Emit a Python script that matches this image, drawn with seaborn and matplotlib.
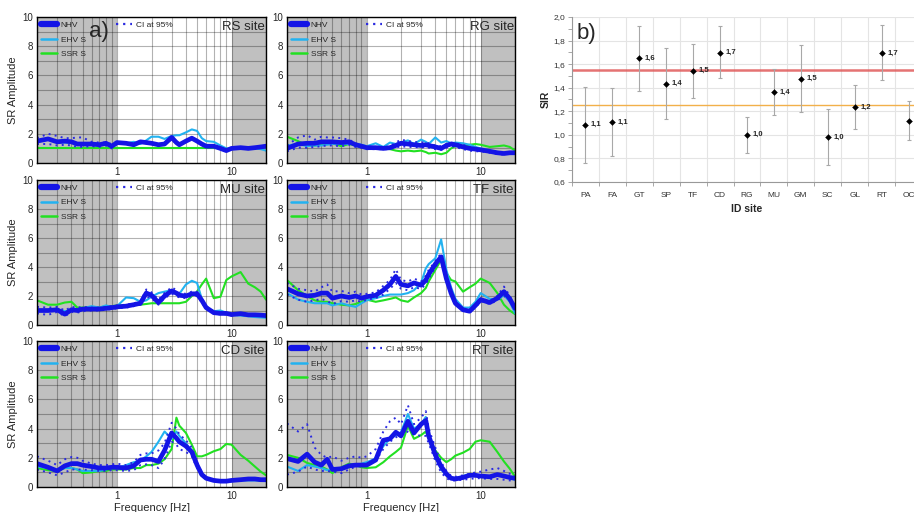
import numpy as np
import pandas as pd
import matplotlib
matplotlib.use("Agg")
import matplotlib.pyplot as plt
import seaborn as sns
from matplotlib.ticker import LogLocator, NullFormatter, MultipleLocator, FixedLocator, FuncFormatter
from matplotlib.lines import Line2D

sns.set_style("white")
plt.rcParams["font.family"] = ["Liberation Sans", "DejaVu Sans"]

# ---------------- data: spectral ratios ----------------
FREQ = [0.2, 0.25, 0.3, 0.35, 0.4, 0.45, 0.5, 0.6, 0.7, 0.8, 0.9, 1.0, 1.2, 1.4, 1.6, 1.8,
        2.0, 2.3, 2.6, 3.0, 3.3, 3.5, 4.0, 4.5, 5.0, 5.5, 6.0, 7.0, 8.0, 9.0, 10, 12, 14, 16, 18, 20]

RS_NHV = [1.5,1.65,1.45,1.5,1.45,1.3,1.3,1.3,1.25,1.35,1.15,1.4,1.35,1.25,1.45,1.4,1.35,1.25,1.3,1.75,1.4,1.25,1.5,1.7,1.5,1.3,1.15,1.15,1.0,0.85,1.0,1.05,1.0,1.05,1.1,1.15]
RS_EHV = [1.45,1.6,1.45,1.4,1.4,1.35,1.3,1.25,1.3,1.3,1.2,1.35,1.35,1.45,1.3,1.55,1.8,1.8,1.65,1.85,1.9,1.9,2.1,2.3,2.2,1.7,1.5,1.45,1.2,1.0,1.0,1.05,1.0,1.0,0.95,0.85]
RS_SSR = [1.0,1.0,1.0,1.0,1.0,1.0,1.0,1.0,1.0,1.0,1.0,1.0,1.0,1.0,1.0,1.0,1.0,1.0,1.0,1.0,1.0,1.0,1.0,1.0,1.0,1.0,1.0,1.0,1.0,1.0,None,None,None,None,None,None]
RS_CI_HI = [1.7,2.0,1.85,1.7,1.7,1.75,1.75,1.45,1.4,1.4,1.3,1.45,1.4,1.3,1.5,1.45,1.4,1.3,1.35,1.85,1.5,1.3,1.55,1.75,1.55,1.35,1.2,1.2,1.05,0.9,1.05,1.1,1.05,1.1,1.15,1.2]
RS_CI_LO = [1.3,1.3,1.2,1.25,1.2,1.1,1.1,1.15,1.1,1.2,1.0,1.3,1.3,1.2,1.4,1.35,1.3,1.2,1.25,1.65,1.3,1.2,1.45,1.65,1.45,1.25,1.1,1.1,0.95,0.8,0.95,1.0,0.95,1.0,1.05,1.1]

RG_NHV = [1.0,1.3,1.35,1.35,1.45,1.45,1.45,1.4,1.45,1.25,1.15,1.05,1.05,1.0,1.05,1.2,1.35,1.3,1.25,1.2,1.25,1.2,1.1,1.0,1.2,1.3,1.25,1.1,1.0,0.95,0.9,0.8,0.7,0.65,0.7,0.7]
RG_EHV = [1.2,1.3,1.15,1.2,1.2,1.25,1.3,1.3,1.3,1.3,1.25,1.15,1.35,1.1,1.4,1.3,1.4,1.55,1.3,1.6,1.45,1.3,1.75,1.4,1.5,1.35,1.4,1.35,1.25,1.1,1.0,0.85,0.75,0.7,0.7,0.7]
RG_SSR = [1.8,1.5,1.2,1.2,1.25,1.3,1.35,1.15,1.3,1.2,1.1,1.0,1.05,1.0,0.95,0.85,0.8,0.85,0.8,0.85,0.75,0.65,0.7,0.6,0.7,1.0,1.15,1.2,1.25,1.3,1.25,1.1,1.15,1.2,1.1,0.85]
RG_CI_HI = [1.2,1.75,1.9,1.6,1.8,1.75,1.75,1.7,1.6,1.35,1.2,1.1,1.1,1.05,1.15,1.4,1.6,1.5,1.45,1.4,1.45,1.35,1.2,1.15,1.3,1.4,1.35,1.25,1.1,1.0,0.95,0.85,0.75,0.72,0.75,0.75]
RG_CI_LO = [0.8,1.05,1.05,1.1,1.15,1.2,1.2,1.15,1.25,1.1,1.05,0.95,0.95,0.95,0.95,1.05,1.15,1.1,1.1,1.05,1.1,1.05,0.95,0.9,1.05,1.15,1.1,0.95,0.85,0.8,0.8,0.7,0.6,0.58,0.65,0.65]

MU_NHV = [1.0,1.0,1.05,0.75,1.05,1.0,1.1,1.1,1.1,1.15,1.2,1.25,1.3,1.4,1.5,2.2,2.05,1.55,2.0,2.35,2.2,2.05,2.0,2.15,2.15,1.7,1.2,0.85,0.8,0.8,0.72,0.78,0.7,0.7,0.68,0.65]
MU_EHV = [1.05,1.0,1.1,0.95,1.05,1.1,1.15,1.3,1.2,1.35,1.25,1.3,1.9,1.85,1.6,1.7,1.95,2.2,2.3,2.4,2.2,2.15,2.8,3.05,2.9,1.8,1.2,0.95,1.0,0.85,0.7,0.65,0.6,0.55,0.52,0.5]
MU_SSR = [1.7,1.4,1.4,1.55,1.6,1.2,1.2,1.25,1.2,1.3,1.3,1.35,1.35,1.4,1.4,1.45,1.5,1.5,1.5,1.5,1.5,1.5,1.6,2.0,2.3,2.8,3.2,1.85,1.95,3.1,3.35,3.65,2.85,2.6,2.3,1.75]
MU_CI_HI = [1.25,1.2,1.25,1.0,1.25,1.2,1.25,1.2,1.2,1.25,1.3,1.35,1.4,1.5,1.6,2.45,2.25,1.75,2.2,2.6,2.4,2.2,2.15,2.3,2.3,1.85,1.3,0.92,0.87,0.87,0.8,0.85,0.75,0.75,0.73,0.7]
MU_CI_LO = [0.8,0.7,0.9,0.6,0.9,0.85,0.95,1.0,1.0,1.05,1.1,1.15,1.2,1.3,1.4,1.95,1.85,1.4,1.85,2.15,2.0,1.9,1.85,2.0,2.0,1.55,1.1,0.78,0.73,0.73,0.65,0.7,0.65,0.65,0.63,0.6]

TF_NHV = [2.5,2.15,2.0,2.05,2.2,2.2,1.85,2.0,1.9,2.0,1.85,1.95,2.05,2.4,2.8,3.35,2.8,2.7,2.9,2.75,3.1,3.5,4.2,4.7,3.2,2.2,1.5,1.05,0.95,1.35,1.75,1.55,1.85,2.3,1.8,1.15]
TF_EHV = [2.2,1.75,1.6,1.5,1.5,1.5,1.35,1.5,1.35,1.25,1.5,1.7,1.85,2.0,2.1,2.1,2.1,2.2,2.4,2.9,3.9,4.2,4.6,5.9,3.8,2.6,1.8,1.2,1.2,1.6,2.2,1.8,1.75,2.05,1.6,0.8]
TF_SSR = [3.1,2.4,2.0,1.7,1.6,1.6,1.5,1.4,1.35,1.45,1.6,1.75,1.6,1.7,1.8,1.9,1.7,1.6,1.9,2.2,2.55,3.0,3.8,4.5,3.6,3.1,3.0,2.3,2.6,2.85,3.2,2.9,2.2,1.4,1.0,0.75]
TF_CI_HI = [2.9,2.5,2.4,2.3,2.6,2.8,2.3,2.35,2.2,2.3,2.1,2.15,2.25,2.7,3.1,3.85,3.1,3.0,3.2,3.0,3.4,3.8,4.4,4.95,3.4,2.4,1.6,1.1,1.0,1.4,1.85,1.65,2.0,2.65,2.0,1.25]
TF_CI_LO = [2.1,1.75,1.6,1.7,1.8,1.65,1.45,1.65,1.6,1.7,1.6,1.75,1.85,2.1,2.5,2.9,2.5,2.4,2.6,2.5,2.8,3.2,4.0,4.45,3.0,2.0,1.4,1.0,0.9,1.2,1.65,1.45,1.7,2.0,1.7,1.05]

CD_NHV = [1.6,1.35,1.1,1.45,1.6,1.6,1.5,1.4,1.3,1.3,1.35,1.35,1.3,1.45,1.85,1.9,1.9,1.75,2.5,3.7,3.35,3.1,2.8,2.4,1.5,0.85,0.6,0.45,0.4,0.4,0.45,0.5,0.55,0.55,0.5,0.5]
CD_EHV = [1.4,1.3,1.15,1.3,1.3,1.2,1.1,1.1,1.1,1.2,1.3,1.3,1.5,1.7,1.8,2.1,2.4,3.1,3.8,3.3,3.8,3.5,3.0,2.4,1.5,0.8,0.55,0.45,0.4,0.4,0.4,0.45,0.45,0.45,0.42,0.4]
CD_SSR = [1.3,1.15,1.1,1.3,1.3,1.2,0.95,1.0,1.1,1.1,1.2,1.2,1.2,1.3,1.3,1.5,1.5,1.6,1.9,2.6,4.75,4.2,3.7,2.9,2.1,2.1,2.2,2.45,2.6,2.95,2.9,2.2,1.8,1.4,1.05,0.8]
CD_CI_HI = [2.1,1.8,1.5,1.9,2.05,2.0,1.8,1.6,1.5,1.5,1.55,1.6,1.5,1.7,2.2,2.3,2.3,2.5,3.0,4.4,4.0,3.6,3.2,2.7,1.7,0.95,0.65,0.5,0.45,0.45,0.5,0.55,0.6,0.6,0.55,0.55]
CD_CI_LO = [1.2,1.0,0.8,1.0,1.2,1.2,1.2,1.15,1.1,1.1,1.15,1.15,1.1,1.15,1.5,1.55,1.5,1.3,1.9,3.1,2.9,2.6,2.4,2.1,1.3,0.75,0.55,0.4,0.35,0.35,0.4,0.45,0.5,0.5,0.45,0.45]

RT_NHV = [1.95,1.75,2.25,1.7,1.5,1.9,1.2,1.25,1.45,1.5,1.5,1.5,1.85,3.2,3.3,3.75,3.5,4.5,3.7,4.3,4.55,3.5,2.2,1.4,0.9,0.6,0.55,0.65,0.8,0.8,0.75,0.7,0.85,0.75,0.65,0.6]
RT_EHV = [1.4,1.1,1.5,1.4,1.3,1.15,1.25,1.3,1.35,1.45,1.6,1.7,1.95,2.8,3.3,3.55,3.75,5.0,4.0,4.3,4.8,3.4,2.1,1.2,0.8,0.65,0.6,0.75,0.9,0.8,0.75,0.75,0.8,0.75,0.6,0.5]
RT_SSR = [2.2,2.0,1.65,1.5,1.4,1.2,0.95,1.35,1.6,1.5,1.35,1.3,1.35,1.7,2.1,2.4,2.7,4.2,3.3,3.55,3.8,3.3,2.5,2.0,1.7,1.9,2.15,2.35,2.6,3.1,3.2,3.1,2.4,1.75,1.25,0.7]
RT_CI_HI = [4.35,3.8,4.3,2.7,2.2,2.0,2.1,1.8,2.0,2.1,2.0,2.1,2.6,3.8,4.5,4.75,4.3,5.6,4.3,4.75,5.2,4.0,2.7,1.7,1.1,0.75,0.7,0.8,0.9,1.0,1.05,1.2,1.3,1.1,0.9,0.75]
RT_CI_LO = [0.85,1.05,1.4,1.2,1.1,1.1,1.05,0.95,1.2,1.4,1.5,1.55,1.8,2.6,3.1,3.4,3.55,3.8,3.6,3.5,3.5,3.0,1.8,1.0,0.6,0.45,0.45,0.5,0.55,0.6,0.6,0.55,0.55,0.5,0.45,0.4]

PANEL_SITES = ["RS", "RG", "MU", "TF", "CD", "RT"]
PANEL_DATA = {
    "RS": (RS_NHV, RS_EHV, RS_SSR, RS_CI_HI, RS_CI_LO),
    "RG": (RG_NHV, RG_EHV, RG_SSR, RG_CI_HI, RG_CI_LO),
    "MU": (MU_NHV, MU_EHV, MU_SSR, MU_CI_HI, MU_CI_LO),
    "TF": (TF_NHV, TF_EHV, TF_SSR, TF_CI_HI, TF_CI_LO),
    "CD": (CD_NHV, CD_EHV, CD_SSR, CD_CI_HI, CD_CI_LO),
    "RT": (RT_NHV, RT_EHV, RT_SSR, RT_CI_HI, RT_CI_LO),
}
Y_TICKS = [0, 2, 4, 6, 8, 10]
X_TICKS = [1, 10]
X_TICK_LABELS = ["1", "10"]

# ---------------- data: SIR ----------------
SIR_SITES = ["PA", "FA", "GT", "SP", "TF", "CD", "RG", "MU", "GM", "SC", "GL", "RT", "OC"]
SIR_VALUE = [1.087, 1.106, 1.649, 1.434, 1.545, 1.697, 1.002, 1.364, 1.477, 0.979, 1.236, 1.695, 1.120]
SIR_LOW   = [0.764, 0.824, 1.375, 1.135, 1.313, 1.480, 0.849, 1.166, 1.194, 0.742, 1.050, 1.466, 0.956]
SIR_HIGH  = [1.406, 1.395, 1.924, 1.734, 1.771, 1.924, 1.152, 1.562, 1.762, 1.217, 1.426, 1.932, 1.290]
SIR_LABELED = ["PA", "FA", "GT", "SP", "TF", "CD", "RG", "MU", "GM", "SC", "GL", "RT"]
SIR_RED = 1.55
SIR_ORANGE = 1.25

# ---------------- style ----------------
C_NHV = "#1414e6"
C_EHV = "#22b2f0"
C_SSR = "#22e022"
C_CI = "#2a2ae0"
GRAY_BAND = "#c0c0c0"
W, H = 914, 512

fig = plt.figure(figsize=(9.14, 5.12), dpi=100)

col_x = [(37, 266), (287, 515)]
row_y = [(17, 163), (180, 325), (341, 487)]


def px_axes(x0, x1, y0, y1):
    return fig.add_axes([x0 / W, 1 - y1 / H, (x1 - x0) / W, (y1 - y0) / H])


for i, site in enumerate(PANEL_SITES):
    r, c = divmod(i, 2)
    ax = px_axes(col_x[c][0], col_x[c][1], row_y[r][0], row_y[r][1])
    nhv, ehv, ssr, hi, lo = PANEL_DATA[site]
    df = pd.DataFrame({"f": FREQ, "NHV": nhv, "EHV": ehv,
                       "SSR": pd.to_numeric(pd.Series(ssr), errors="coerce"),
                       "hi": hi, "lo": lo})
    ax.set_xscale("log")
    ax.axvspan(0.2, 1, color=GRAY_BAND, lw=0, zorder=0.1)
    ax.axvspan(10, 20, color=GRAY_BAND, lw=0, zorder=0.1)

    sns.lineplot(data=df, x="f", y="SSR", ax=ax, color=C_SSR, lw=1.5, estimator=None, legend=False)
    sns.lineplot(data=df, x="f", y="EHV", ax=ax, color=C_EHV, lw=1.5, estimator=None, legend=False)
    for key in ("hi", "lo"):
        sns.lineplot(data=df, x="f", y=key, ax=ax, color=C_CI, lw=1.4,
                     linestyle=(0, (1, 2.2)), estimator=None, legend=False)
    sns.lineplot(data=df, x="f", y="NHV", ax=ax, color=C_NHV, lw=3.4, estimator=None, legend=False)

    ax.set_xlim(0.2, 20)
    ax.set_ylim(0, 10)
    ax.set_axisbelow(True)
    ax.set_yticks(Y_TICKS)
    ax.yaxis.set_minor_locator(MultipleLocator(1))
    ax.set_xticks(X_TICKS)
    ax.set_xticklabels(X_TICK_LABELS)
    ax.xaxis.set_minor_locator(LogLocator(base=10, subs=range(2, 10), numticks=20))
    ax.xaxis.set_minor_formatter(NullFormatter())
    ax.tick_params(which="both", length=0, labelsize=7, pad=3)
    ax.grid(which="both", axis="both", color="black", alpha=0.3, lw=0.8)
    for sp in ax.spines.values():
        sp.set_color("black")
        sp.set_linewidth(1.0)
        sp.set_visible(True)
    ax.set_xlabel("Frequency [Hz]" if r == 2 else "", fontsize=8, labelpad=1)
    ax.set_ylabel("SR Amplitude" if c == 0 else "", fontsize=8, labelpad=3)

    handles = [Line2D([], [], color=C_NHV, lw=4.5),
               Line2D([], [], color=C_EHV, lw=1.8),
               Line2D([], [], color=C_SSR, lw=1.8),
               Line2D([], [], color=C_CI, lw=1.6, linestyle=(0, (1, 2.2))),
               Line2D([], [], alpha=0), Line2D([], [], alpha=0)]
    labels = ["NHV", "EHV S", "SSR S", "CI at 95%", "", ""]
    ax.legend(handles, labels, ncol=2, loc="upper left", bbox_to_anchor=(0.0, 1.0),
              frameon=False, fontsize=6, handlelength=2.0, handletextpad=0.4,
              columnspacing=3.6, labelspacing=0.85, borderaxespad=0.15, borderpad=0.3)
    ax.text(0.995, 0.975, f"{site} site", transform=ax.transAxes, ha="right", va="top",
            fontsize=9.5)

fig.text(89 / W, 1 - 32 / H, "a)", fontsize=16, va="center", ha="left")

# ---------------- panel b ----------------
axb = px_axes(572, 922, 17, 182)
dfb = pd.DataFrame({"site": SIR_SITES, "sir": SIR_VALUE, "lo": SIR_LOW, "hi": SIR_HIGH})
axb.axhline(SIR_RED, color="#e05a5a", lw=1.8, alpha=0.85, zorder=1.5)
axb.axhline(SIR_ORANGE, color="#f2b04a", lw=1.0, zorder=1.5)
axb.errorbar(dfb["site"], dfb["sir"], yerr=[dfb["sir"] - dfb["lo"], dfb["hi"] - dfb["sir"]],
             fmt="none", ecolor="#a8a8a8", elinewidth=0.8, capsize=1.5, capthick=0.8, zorder=2)
sns.scatterplot(data=dfb, x="site", y="sir", ax=axb, marker="D", s=9, color="black",
                edgecolor="black", linewidth=0.3, zorder=3, legend=False)
for k, (s, v) in enumerate(zip(dfb["site"], dfb["sir"])):
    if s in SIR_LABELED:
        axb.annotate(f"{v:.1f}".replace(".", ","), xy=(k, v), xytext=(4, 0),
                     textcoords="offset points", fontsize=5.5, fontweight="bold", va="center")
axb.set_xlim(-0.5, len(SIR_SITES) - 0.5)
axb.set_ylim(0.6, 2.0)
axb.yaxis.set_major_locator(MultipleLocator(0.2))
axb.yaxis.set_minor_locator(MultipleLocator(0.1))
axb.yaxis.set_major_formatter(FuncFormatter(lambda v, p: f"{v:.1f}".replace(".", ",")))
axb.xaxis.set_minor_locator(FixedLocator(np.arange(-0.5, len(SIR_SITES), 1.0)))
axb.set_axisbelow(True)
axb.grid(axis="y", which="major", color="#e4e4e4", lw=0.8)
axb.grid(axis="x", which="minor", color="#e4e4e4", lw=0.8)
axb.tick_params(axis="x", which="major", length=0, labelsize=6, pad=7, colors="#333333")
axb.tick_params(axis="x", which="minor", length=3, width=0.6, color="#999999", direction="out")
axb.tick_params(axis="y", which="major", length=3, width=0.6, labelsize=6, color="#999999",
                labelcolor="#333333", direction="out", pad=2)
axb.tick_params(axis="y", which="minor", length=3, width=0.6, color="#999999", direction="out")
axb.tick_params(bottom=True, left=True, which="both")
for side in ("top", "right"):
    axb.spines[side].set_visible(False)
for side in ("left", "bottom"):
    axb.spines[side].set_color("#999999")
    axb.spines[side].set_linewidth(0.8)
axb.set_xlabel("ID site", fontsize=7.5, fontweight="bold", labelpad=4)
axb.set_ylabel("SIR", fontsize=7.5, fontweight="bold", labelpad=2)
fig.text(577 / W, 1 - 33 / H, "b)", fontsize=16, va="center", ha="left")

fig.savefig("out.png", dpi=100)
